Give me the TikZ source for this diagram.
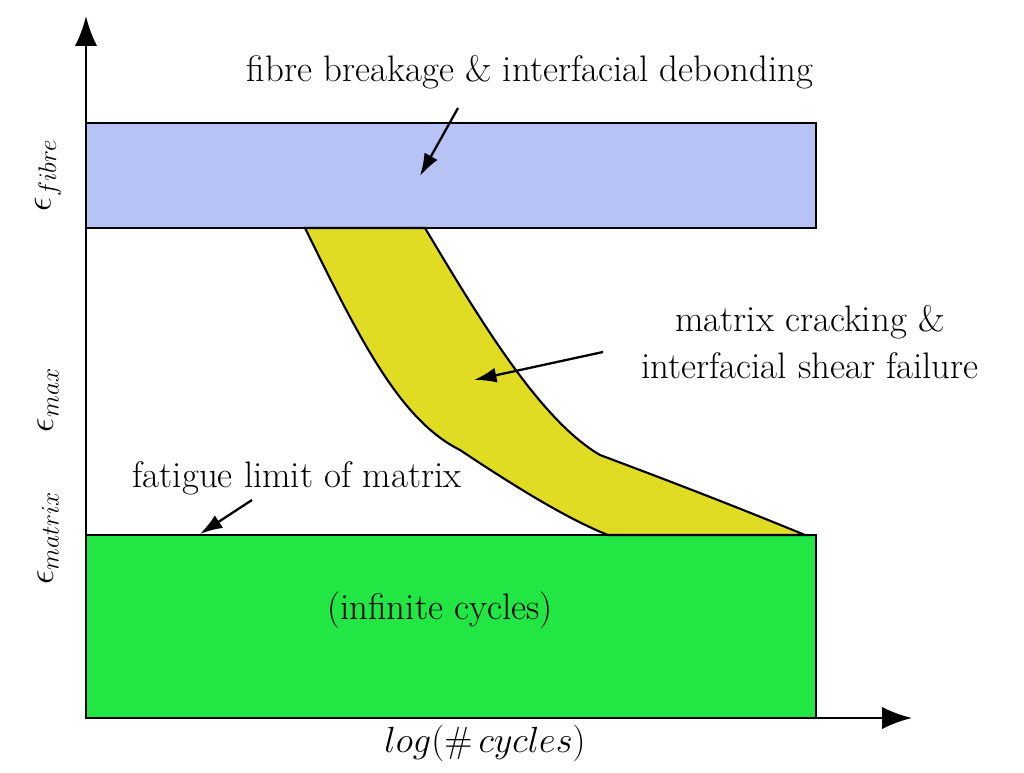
\documentclass[tikz,border=0pt]{standalone}
\usepackage{amsmath}
\usepackage{xcolor}
\usetikzlibrary{arrows.meta, positioning}
\definecolor{fibreblue}{RGB}{183,194,245}
\definecolor{matrixgreen}{RGB}{34,230,68}
\definecolor{bandyellow}{RGB}{224,220,36}
\begin{document}
\begin{tikzpicture}[
    x=0.02cm, y=-0.02cm,
    lbl/.style={font=\fontsize{21}{25}\selectfont, inner sep=0pt, align=center},
    axis/.style={-{Latex[length=0.6cm,width=0.45cm]}, line width=1.6pt},
    arrow/.style={-{Latex[length=0.45cm,width=0.3cm]}, line width=1.3pt}
]
\useasboundingbox (0,0) rectangle (1024,773);

% regions
\draw[fill=fibreblue, line width=1.2pt] (86,123) rectangle (816,228);
\draw[fill=matrixgreen, line width=1.2pt] (86,535) rectangle (816,718);
\draw[fill=bandyellow, line width=1.2pt] (305,228) .. controls (360,340) and (400,420) .. (460,450)
    .. controls (520,490) and (570,520) .. (608,535) -- (805,535)
    .. controls (720,500) and (640,470) .. (600,455)
    .. controls (540,420) and (480,320) .. (425,228) -- cycle;

% axes
\coordinate (origin) at (86,718);
\coordinate (ytip) at (86,16);
\coordinate (xtip) at (912,718);
\draw[axis] (origin) -- (ytip);
\draw[axis] (origin) -- (xtip);

% labels
\node[lbl] (fibre) at (530,72) {fibre breakage \& interfacial debonding};
\node[lbl] (crack) at (810,342) {matrix cracking \&\\[2pt]interfacial shear failure};
\node[lbl] (fatigue) at (297,478) {fatigue limit of matrix};
\node[lbl] (infinite) at (440,610) {(infinite cycles)};
\node[lbl] (xlab) at (485,743) {$log(\#\,cycles)$};
\node[lbl, rotate=90] (efibre) at (48,175) {$\epsilon_{fibre}$};
\node[lbl, rotate=90] (emax) at (48,400) {$\epsilon_{max}$};
\node[lbl, rotate=90] (ematrix) at (48,538) {$\epsilon_{matrix}$};

% pointers
\coordinate (fibreend) at (420,176);
\coordinate (crackstart) at (603,352);
\coordinate (crackend) at (474,380);
\coordinate (fatiguestart) at (252,500);
\coordinate (fatigueend) at (200,534);
\draw[arrow] (458,108) -- (fibreend);
\draw[arrow] (crackstart) -- (crackend);
\draw[arrow] (fatiguestart) -- (fatigueend);
\end{tikzpicture}
\end{document}
